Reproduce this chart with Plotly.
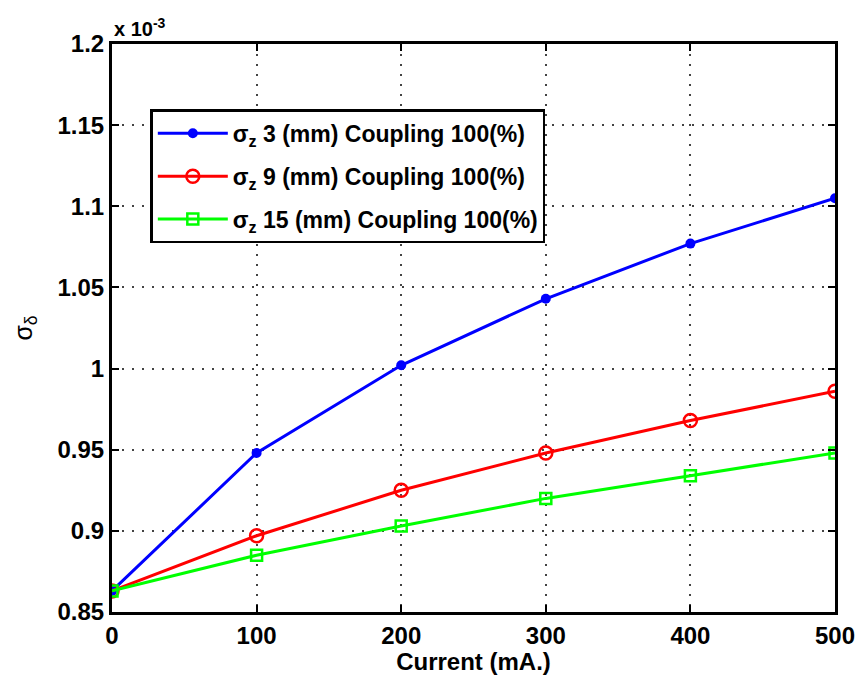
import plotly.graph_objects as go

current = [0, 100, 200, 300, 400, 500]
sigma_z3 = [0.863, 0.948, 1.002, 1.043, 1.077, 1.105]
sigma_z9 = [0.863, 0.897, 0.925, 0.948, 0.968, 0.986]
sigma_z15 = [0.863, 0.885, 0.903, 0.920, 0.934, 0.948]
names = ["σ<sub>z</sub> 3 (mm) Coupling 100(%)",
         "σ<sub>z</sub> 9 (mm) Coupling 100(%)",
         "σ<sub>z</sub> 15 (mm) Coupling 100(%)"]
yticks = [0.85, 0.9, 0.95, 1.0, 1.05, 1.1, 1.15, 1.2]
yticktext = ["0.85", "0.9", "0.95", "1", "1.05", "1.1", "1.15", "1.2"]
xticks = [0, 100, 200, 300, 400, 500]

FONT = "Liberation Sans Narrow, Liberation Sans, Arial"

fig = go.Figure()
fig.add_trace(go.Scatter(x=current, y=sigma_z3, name=names[0], mode="lines+markers",
                         legendgroup="a",
                         line=dict(color="#0000ff", width=3),
                         marker=dict(symbol="circle", size=10, color="#0000ff")))
fig.add_trace(go.Scatter(x=current, y=sigma_z9, name=names[1], mode="lines+markers",
                         legendgroup="b",
                         line=dict(color="#ff0000", width=3),
                         marker=dict(symbol="circle-open", size=13, color="#ff0000",
                                     line=dict(width=2.5, color="#ff0000"))))
fig.add_trace(go.Scatter(x=current, y=sigma_z15, name=names[2], mode="lines+markers",
                         legendgroup="c",
                         line=dict(color="#00ff00", width=3),
                         marker=dict(symbol="square-open", size=11, color="#00ff00",
                                     line=dict(width=2.5, color="#00ff00"))))

axis_common = dict(showline=True, linecolor="black", linewidth=3, mirror="ticks",
                   ticks="inside", ticklen=7, tickwidth=2, tickcolor="black",
                   showgrid=True, gridcolor="#444444", griddash="2px,8px", gridwidth=1.5,
                   zeroline=False, automargin=False,
                   tickfont=dict(family=FONT, size=24, color="black", weight="bold"))

fig.update_layout(
    width=866, height=675,
    margin=dict(l=112, r=31, t=44, b=63),
    plot_bgcolor="white", paper_bgcolor="white",
    xaxis=dict(range=[0, 500], tickvals=xticks,
               title=dict(text="Current (mA.)", standoff=0,
                          font=dict(family=FONT, size=24, color="black", weight="bold")),
               **axis_common),
    yaxis=dict(range=[0.85, 1.2], tickvals=yticks, ticktext=yticktext,
               title=dict(text="σ<sub>δ</sub>", standoff=18,
                          font=dict(family=FONT, size=25, color="black")),
               **axis_common),
    legend=dict(x=0.053, y=0.885, xanchor="left", yanchor="top",
                bgcolor="white", bordercolor="black", borderwidth=2.5,
                font=dict(family=FONT, size=23, color="black", weight="bold"),
                itemwidth=70, tracegroupgap=10),
    showlegend=True,
)
fig.add_annotation(text="x 10<sup>-3</sup>", xref="paper", yref="paper",
                   x=0.0, y=1.0, xanchor="left", yanchor="bottom", showarrow=False,
                   font=dict(family=FONT, size=20, color="black", weight="bold"), yshift=2)

fig.write_html("out.html")
